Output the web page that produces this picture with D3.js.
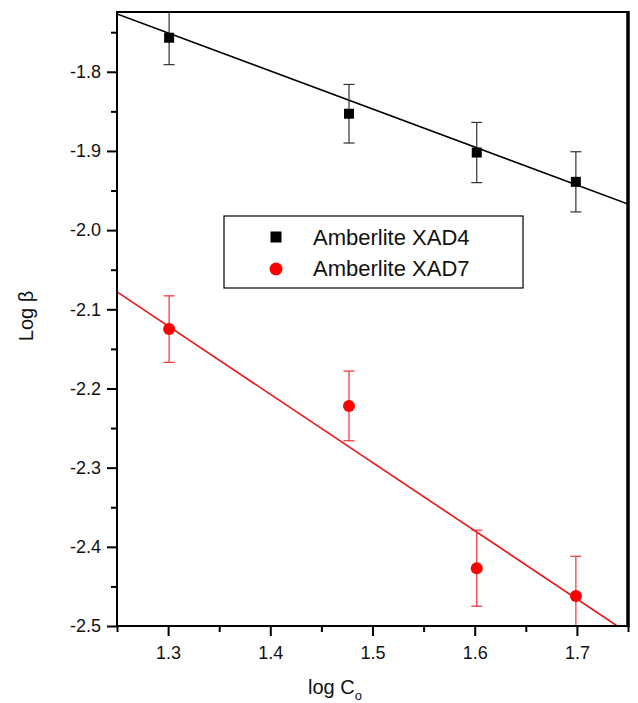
<!doctype html>
<html>
<head>
<meta charset="UTF-8">
<title>log beta vs log C0</title>
<script src="https://cdn.jsdelivr.net/npm/d3@7"></script>
<style>
    body { margin: 0; background: #fff; }
    text { font-family: "Liberation Sans", Arial, Helvetica, sans-serif; }
</style>
</head>
<body>
<svg width="638" height="703"></svg>
<script>

    // data
    let logC = [1.301, 1.477, 1.602, 1.699];
    let xad4 = [-1.757, -1.853, -1.902, -1.939];
    let xad4Err = [0.034, 0.037, 0.038, 0.038];
    let xad7 = [-2.125, -2.222, -2.427, -2.462];
    let xad7Err = [0.042, 0.044, 0.048, 0.050];
    // fitted lines (end points over the x range)
    let fitX = [1.25, 1.75];
    let xad4Fit = [-1.727, -1.967];
    let xad7Fit = [-2.078, -2.509];
    let xTicks = [1.3, 1.4, 1.5, 1.6, 1.7];
    let xMinor = [1.25, 1.35, 1.45, 1.55, 1.65, 1.75];
    let yTicks = [-1.8, -1.9, -2.0, -2.1, -2.2, -2.3, -2.4, -2.5];
    let yMinor = [-1.75, -1.85, -1.95, -2.05, -2.15, -2.25, -2.35, -2.45];
    let seriesNames = ["Amberlite XAD4", "Amberlite XAD7"];

    let grid = {left: 117, right: 628, top: 12, bottom: 626};
    let svg = d3.select("svg");

    let x = d3.scaleLinear().domain([1.25, 1.75]).range([grid.left, grid.right]);
    let y = d3.scaleLinear().domain([-2.5, -1.7245]).range([grid.bottom, grid.top]);

    svg.append("clipPath").attr("id", "plot")
        .append("rect")
        .attr("x", grid.left).attr("y", grid.top)
        .attr("width", grid.right - grid.left).attr("height", grid.bottom - grid.top);

    let plot = svg.append("g").attr("clip-path", "url(#plot)");

    // fit lines
    let line = d3.line().x(d => x(d[0])).y(d => y(d[1]));
    plot.append("path")
        .attr("d", line(fitX.map((v, i) => [v, xad4Fit[i]])))
        .attr("stroke", "#000").attr("stroke-width", 1.6).attr("fill", "none");
    plot.append("path")
        .attr("d", line(fitX.map((v, i) => [v, xad7Fit[i]])))
        .attr("stroke", "#ee1111").attr("stroke-width", 1.6).attr("fill", "none");

    function errorBars(vals, errs, color) {
        let cap = 5.5;
        let g = plot.append("g").attr("stroke", color).attr("stroke-width", 1.2);
        vals.forEach((v, i) => {
            let cx = x(logC[i]);
            g.append("line").attr("x1", cx).attr("x2", cx)
                .attr("y1", y(v + errs[i])).attr("y2", y(v - errs[i]));
            g.append("line").attr("x1", cx - cap).attr("x2", cx + cap)
                .attr("y1", y(v + errs[i])).attr("y2", y(v + errs[i]));
            g.append("line").attr("x1", cx - cap).attr("x2", cx + cap)
                .attr("y1", y(v - errs[i])).attr("y2", y(v - errs[i]));
        });
    }
    errorBars(xad4, xad4Err, "#333");
    errorBars(xad7, xad7Err, "#f03030");

    plot.selectAll(".sq").data(xad4).enter().append("rect")
        .attr("x", (d, i) => x(logC[i]) - 5)
        .attr("y", d => y(d) - 5)
        .attr("width", 10).attr("height", 10)
        .attr("fill", "#000");

    plot.selectAll(".ci").data(xad7).enter().append("circle")
        .attr("cx", (d, i) => x(logC[i]))
        .attr("cy", d => y(d))
        .attr("r", 6)
        .attr("fill", "#ff0000");

    // axes
    let fmt = d => d.toFixed(1);
    let yAxis = d3.axisLeft(y).tickValues(yTicks).tickSize(10).tickPadding(6).tickFormat(fmt);
    let yAxisMinor = d3.axisLeft(y).tickValues(yMinor).tickSize(6).tickFormat("");
    let xAxis = d3.axisBottom(x).tickValues(xTicks).tickSize(10).tickPadding(10).tickFormat(fmt);
    let xAxisMinor = d3.axisBottom(x).tickValues(xMinor).tickSize(6).tickFormat("");

    function style(g) {
        g.select(".domain").remove();
        g.selectAll("line").attr("stroke", "#000").attr("stroke-width", 2);
        g.selectAll("text").attr("fill", "#111").style("font-size", "18px")
            .style("font-family", "'Liberation Sans', Arial, sans-serif");
    }

    svg.append("g").attr("transform", "translate(" + grid.left + ",0)").call(yAxis).call(style);
    svg.append("g").attr("transform", "translate(" + grid.left + ",0)").call(yAxisMinor).call(style);
    svg.append("g").attr("transform", "translate(0," + grid.bottom + ")").call(xAxis).call(style);
    svg.append("g").attr("transform", "translate(0," + grid.bottom + ")").call(xAxisMinor).call(style);

    // frame
    svg.append("line").attr("x1", grid.left).attr("x2", grid.right)
        .attr("y1", grid.top).attr("y2", grid.top).attr("stroke", "#000").attr("stroke-width", 2);
    svg.append("line").attr("x1", grid.left).attr("x2", grid.left)
        .attr("y1", grid.top - 1).attr("y2", grid.bottom + 1).attr("stroke", "#000").attr("stroke-width", 2);
    svg.append("line").attr("x1", grid.left - 1).attr("x2", grid.right)
        .attr("y1", grid.bottom).attr("y2", grid.bottom).attr("stroke", "#000").attr("stroke-width", 2);
    svg.append("line").attr("x1", grid.right).attr("x2", grid.right)
        .attr("y1", grid.top - 1).attr("y2", grid.bottom + 1).attr("stroke", "#000").attr("stroke-width", 3.5);

    // legend
    let lg = svg.append("g");
    lg.append("rect").attr("x", 224).attr("y", 216).attr("width", 299).attr("height", 72)
        .attr("fill", "#fff").attr("stroke", "#000").attr("stroke-width", 1.2);
    lg.append("rect").attr("x", 270.5).attr("y", 231.5).attr("width", 11).attr("height", 11).attr("fill", "#000");
    lg.append("circle").attr("cx", 276).attr("cy", 269).attr("r", 6.5).attr("fill", "#ff0000");
    lg.selectAll(".lt").data(seriesNames).enter().append("text")
        .attr("x", 313).attr("y", (d, i) => 245 + i * 31)
        .style("font-size", "22px").attr("fill", "#111")
        .text(d => d);

    // axis titles
    svg.append("text")
        .attr("transform", "translate(33,316) rotate(-90)")
        .attr("text-anchor", "middle")
        .style("font-size", "20px").attr("fill", "#111")
        .text("Log \u03b2");

    let xt = svg.append("text").attr("x", 308).attr("y", 694)
        .style("font-size", "20px").attr("fill", "#111");
    xt.append("tspan").text("log C");
    xt.append("tspan").attr("dy", 6).style("font-size", "13px").text("o");

</script>
</body>
</html>
